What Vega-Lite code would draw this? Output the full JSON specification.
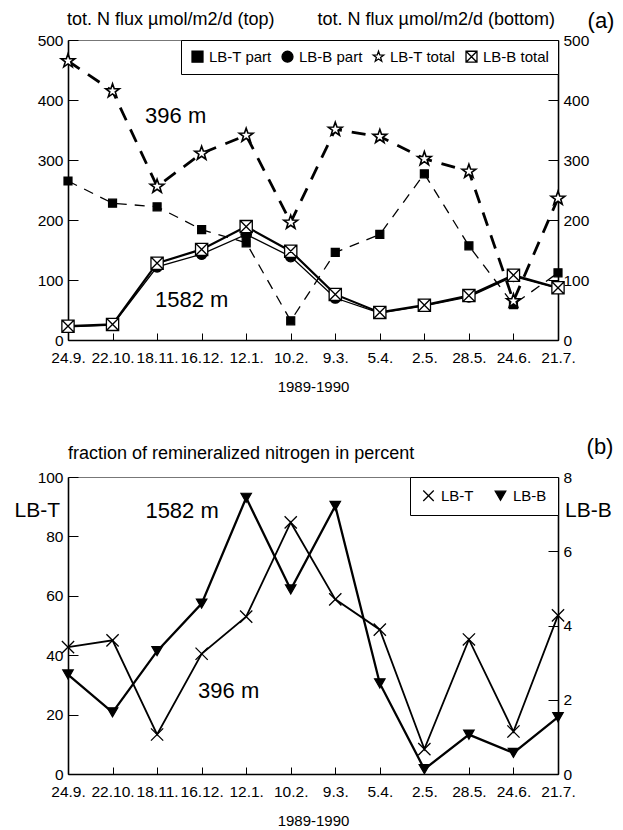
{
  "$schema": "https://vega.github.io/schema/vega-lite/v6.json",
  "background": "white",
  "padding": {"left": 13, "top": 9, "right": 2, "bottom": 2},
  "spacing": 40,
  "config": {
    "font": "Liberation Sans",
    "view": {"stroke": "#777777", "strokeWidth": 1},
    "axis": {"domainColor": "black", "domainWidth": 1.6, "tickColor": "black", "tickWidth": 1, "labelColor": "black", "labelFont": "Liberation Sans", "labelFontSize": 15.5, "grid": false, "titleFont": "Liberation Sans", "titleColor": "black", "titleFontSize": 15, "titleFontWeight": "normal"},
    "text": {"font": "Liberation Sans", "color": "black"}
  },
  "resolve": {"scale": {"shape": "independent", "fill": "independent", "stroke": "independent"}, "legend": {"shape": "independent", "fill": "independent", "stroke": "independent"}},
  "datasets": {
    "fluxes": [
      {"date": "24.9.", "series": "LB-T part", "value": 265},
      {"date": "22.10.", "series": "LB-T part", "value": 228},
      {"date": "18.11.", "series": "LB-T part", "value": 222},
      {"date": "16.12.", "series": "LB-T part", "value": 184},
      {"date": "12.1.", "series": "LB-T part", "value": 162},
      {"date": "10.2.", "series": "LB-T part", "value": 32},
      {"date": "9.3.", "series": "LB-T part", "value": 146},
      {"date": "5.4.", "series": "LB-T part", "value": 176},
      {"date": "2.5.", "series": "LB-T part", "value": 277},
      {"date": "28.5.", "series": "LB-T part", "value": 157},
      {"date": "24.6.", "series": "LB-T part", "value": 59},
      {"date": "21.7.", "series": "LB-T part", "value": 112},
      {"date": "24.9.", "series": "LB-T total", "value": 465},
      {"date": "22.10.", "series": "LB-T total", "value": 415},
      {"date": "18.11.", "series": "LB-T total", "value": 256},
      {"date": "16.12.", "series": "LB-T total", "value": 311},
      {"date": "12.1.", "series": "LB-T total", "value": 341},
      {"date": "10.2.", "series": "LB-T total", "value": 196},
      {"date": "9.3.", "series": "LB-T total", "value": 351},
      {"date": "5.4.", "series": "LB-T total", "value": 339},
      {"date": "2.5.", "series": "LB-T total", "value": 302},
      {"date": "28.5.", "series": "LB-T total", "value": 281},
      {"date": "24.6.", "series": "LB-T total", "value": 65},
      {"date": "21.7.", "series": "LB-T total", "value": 236},
      {"date": "24.9.", "series": "LB-B part", "value": 22},
      {"date": "22.10.", "series": "LB-B part", "value": 25},
      {"date": "18.11.", "series": "LB-B part", "value": 122},
      {"date": "16.12.", "series": "LB-B part", "value": 143},
      {"date": "12.1.", "series": "LB-B part", "value": 176},
      {"date": "10.2.", "series": "LB-B part", "value": 139},
      {"date": "9.3.", "series": "LB-B part", "value": 70},
      {"date": "5.4.", "series": "LB-B part", "value": 45},
      {"date": "2.5.", "series": "LB-B part", "value": 57},
      {"date": "28.5.", "series": "LB-B part", "value": 72},
      {"date": "24.6.", "series": "LB-B part", "value": 106},
      {"date": "21.7.", "series": "LB-B part", "value": 86},
      {"date": "24.9.", "series": "LB-B total", "value": 23},
      {"date": "22.10.", "series": "LB-B total", "value": 26},
      {"date": "18.11.", "series": "LB-B total", "value": 128},
      {"date": "16.12.", "series": "LB-B total", "value": 151},
      {"date": "12.1.", "series": "LB-B total", "value": 189},
      {"date": "10.2.", "series": "LB-B total", "value": 148},
      {"date": "9.3.", "series": "LB-B total", "value": 76},
      {"date": "5.4.", "series": "LB-B total", "value": 46},
      {"date": "2.5.", "series": "LB-B total", "value": 58},
      {"date": "28.5.", "series": "LB-B total", "value": 74},
      {"date": "24.6.", "series": "LB-B total", "value": 108},
      {"date": "21.7.", "series": "LB-B total", "value": 87}
    ],
    "frac": [
      {"date": "24.9.", "series_b": "LB-T", "value": 42.7},
      {"date": "22.10.", "series_b": "LB-T", "value": 45},
      {"date": "18.11.", "series_b": "LB-T", "value": 13.3},
      {"date": "16.12.", "series_b": "LB-T", "value": 40.5},
      {"date": "12.1.", "series_b": "LB-T", "value": 53},
      {"date": "10.2.", "series_b": "LB-T", "value": 84.7},
      {"date": "9.3.", "series_b": "LB-T", "value": 58.8},
      {"date": "5.4.", "series_b": "LB-T", "value": 48.6},
      {"date": "2.5.", "series_b": "LB-T", "value": 8.4},
      {"date": "28.5.", "series_b": "LB-T", "value": 45.3},
      {"date": "24.6.", "series_b": "LB-T", "value": 14.3},
      {"date": "21.7.", "series_b": "LB-T", "value": 53.4},
      {"date": "24.9.", "series_b": "LB-B", "value": 2.68},
      {"date": "22.10.", "series_b": "LB-B", "value": 1.66},
      {"date": "18.11.", "series_b": "LB-B", "value": 3.31},
      {"date": "16.12.", "series_b": "LB-B", "value": 4.59},
      {"date": "12.1.", "series_b": "LB-B", "value": 7.44},
      {"date": "10.2.", "series_b": "LB-B", "value": 4.97},
      {"date": "9.3.", "series_b": "LB-B", "value": 7.22},
      {"date": "5.4.", "series_b": "LB-B", "value": 2.44},
      {"date": "2.5.", "series_b": "LB-B", "value": 0.13},
      {"date": "28.5.", "series_b": "LB-B", "value": 1.06},
      {"date": "24.6.", "series_b": "LB-B", "value": 0.57},
      {"date": "21.7.", "series_b": "LB-B", "value": 1.53}
    ]
  },
  "vconcat": [
    {
      "width": 490,
      "height": 300,
      "data": {"name": "fluxes"},
      "encoding": {
        "x": {"field": "date", "type": "ordinal", "scale": {"type": "point", "padding": 0, "domain": ["24.9.", "22.10.", "18.11.", "16.12.", "12.1.", "10.2.", "9.3.", "5.4.", "2.5.", "28.5.", "24.6.", "21.7."]}, "axis": {"title": "1989-1990", "labelAngle": 0, "tickSize": -7, "labelPadding": 17, "labelOverlap": false, "labelFlush": false, "titlePadding": 14}}
      },
      "resolve": {"scale": {"y": "independent"}},
      "layer": [
        {
          "transform": [{"filter": {"field": "series", "equal": "LB-T part"}}],
          "mark": {"type": "line", "color": "black", "strokeWidth": 1.3, "strokeDash": [10, 8]},
          "encoding": {
            "y": {"field": "value", "type": "quantitative", "scale": {"domain": [0, 500], "nice": false}, "axis": {"title": null, "orient": "left", "values": [0, 100, 200, 300, 400, 500], "tickSize": -10, "labelPadding": 15}}
          }
        },
        {
          "transform": [{"filter": {"field": "series", "equal": "LB-T total"}}],
          "mark": {"type": "line", "color": "black", "strokeWidth": 2.8, "strokeDash": [14, 10]},
          "encoding": {
            "y": {"field": "value", "type": "quantitative", "scale": {"domain": [0, 500], "nice": false}, "axis": null}
          }
        },
        {
          "transform": [{"filter": {"field": "series", "equal": "LB-B part"}}],
          "mark": {"type": "line", "color": "black", "strokeWidth": 1.3},
          "encoding": {
            "y": {"field": "value", "type": "quantitative", "scale": {"domain": [0, 500], "nice": false}, "axis": {"title": null, "orient": "right", "values": [0, 100, 200, 300, 400, 500], "tickSize": -10, "labelPadding": 15}}
          }
        },
        {
          "transform": [{"filter": {"field": "series", "equal": "LB-B total"}}],
          "mark": {"type": "line", "color": "black", "strokeWidth": 2.2},
          "encoding": {
            "y": {"field": "value", "type": "quantitative", "scale": {"domain": [0, 500], "nice": false}, "axis": null}
          }
        },
        {
          "transform": [{"filter": {"field": "series", "equal": "LB-T part"}}],
          "mark": {"type": "point", "strokeWidth": 1.2, "opacity": 1, "size": 64},
          "encoding": {
            "y": {"field": "value", "type": "quantitative", "scale": {"domain": [0, 500], "nice": false}, "axis": null},
            "shape": {"field": "series", "type": "nominal", "scale": {"domain": ["LB-T part", "LB-B part", "LB-T total", "LB-B total"], "range": ["square", "circle", "M0,-1L0.235,-0.324L0.951,-0.309L0.38,0.124L0.588,0.809L0,0.4L-0.588,0.809L-0.38,0.124L-0.951,-0.309L-0.235,-0.324Z", "M-1,-1H1V1H-1ZM-1,-1L1,1M-1,1L1,-1"]}, "legend": {"title": null, "orient": "top-right", "direction": "horizontal", "offset": 0, "padding": 9, "strokeColor": "black", "fillColor": "white", "labelFontSize": 15, "labelColor": "black", "symbolSize": 120, "symbolStrokeWidth": 1.3, "labelOffset": 4, "columnPadding": 7}},
            "fill": {"field": "series", "type": "nominal", "scale": {"domain": ["LB-T part", "LB-B part", "LB-T total", "LB-B total"], "range": ["black", "black", "white", "white"]}, "legend": {"title": null, "orient": "top-right", "direction": "horizontal", "offset": 0, "padding": 9, "strokeColor": "black", "fillColor": "white", "labelFontSize": 15, "labelColor": "black", "symbolSize": 120, "symbolStrokeWidth": 1.3, "labelOffset": 4, "columnPadding": 7}},
            "stroke": {"field": "series", "type": "nominal", "scale": {"domain": ["LB-T part", "LB-B part", "LB-T total", "LB-B total"], "range": ["black", "black", "black", "black"]}, "legend": {"title": null, "orient": "top-right", "direction": "horizontal", "offset": 0, "padding": 9, "strokeColor": "black", "fillColor": "white", "labelFontSize": 15, "labelColor": "black", "symbolSize": 120, "symbolStrokeWidth": 1.3, "labelOffset": 4, "columnPadding": 7}}
          }
        },
        {
          "transform": [{"filter": {"field": "series", "equal": "LB-T total"}}],
          "mark": {"type": "point", "strokeWidth": 1.6, "opacity": 1, "size": 210},
          "encoding": {
            "y": {"field": "value", "type": "quantitative", "scale": {"domain": [0, 500], "nice": false}, "axis": null},
            "shape": {"field": "series", "type": "nominal"},
            "fill": {"field": "series", "type": "nominal"},
            "stroke": {"field": "series", "type": "nominal"}
          }
        },
        {
          "transform": [{"filter": {"field": "series", "equal": "LB-B part"}}],
          "mark": {"type": "point", "strokeWidth": 1.2, "opacity": 1, "size": 110},
          "encoding": {
            "y": {"field": "value", "type": "quantitative", "scale": {"domain": [0, 500], "nice": false}, "axis": null},
            "shape": {"field": "series", "type": "nominal"},
            "fill": {"field": "series", "type": "nominal"},
            "stroke": {"field": "series", "type": "nominal"}
          }
        },
        {
          "transform": [{"filter": {"field": "series", "equal": "LB-B total"}}],
          "mark": {"type": "point", "strokeWidth": 1.3, "opacity": 1, "size": 150},
          "encoding": {
            "y": {"field": "value", "type": "quantitative", "scale": {"domain": [0, 500], "nice": false}, "axis": null},
            "shape": {"field": "series", "type": "nominal"},
            "fill": {"field": "series", "type": "nominal"},
            "stroke": {"field": "series", "type": "nominal"}
          }
        },
        {
          "data": {"values": [{}]},
          "mark": {"type": "text", "text": "396 m", "fontSize": 22, "align": "center", "baseline": "middle", "dx": -26},
          "encoding": {"x": {"datum": "16.12.", "type": "ordinal"}, "y": {"datum": 373, "type": "quantitative", "scale": {"domain": [0, 500], "nice": false}, "axis": null}}
        },
        {
          "data": {"values": [{}]},
          "mark": {"type": "text", "text": "1582 m", "fontSize": 22, "align": "center", "baseline": "middle", "dx": -10},
          "encoding": {"x": {"datum": "16.12.", "type": "ordinal"}, "y": {"datum": 66, "type": "quantitative", "scale": {"domain": [0, 500], "nice": false}, "axis": null}}
        },
        {
          "data": {"values": [{}]},
          "mark": {"type": "text", "text": "tot. N flux µmol/m2/d (top)", "fontSize": 18, "align": "left", "baseline": "middle", "dx": -1, "dy": -20},
          "encoding": {"x": {"datum": "24.9.", "type": "ordinal"}, "y": {"datum": 500, "type": "quantitative", "scale": {"domain": [0, 500], "nice": false}, "axis": null}}
        },
        {
          "data": {"values": [{}]},
          "mark": {"type": "text", "text": "tot. N flux µmol/m2/d (bottom)", "fontSize": 18, "align": "right", "baseline": "middle", "dx": -3, "dy": -20},
          "encoding": {"x": {"datum": "21.7.", "type": "ordinal"}, "y": {"datum": 500, "type": "quantitative", "scale": {"domain": [0, 500], "nice": false}, "axis": null}}
        },
        {
          "data": {"values": [{}]},
          "mark": {"type": "text", "text": "(a)", "fontSize": 22, "align": "center", "baseline": "middle", "dx": 43, "dy": -19},
          "encoding": {"x": {"datum": "21.7.", "type": "ordinal"}, "y": {"datum": 500, "type": "quantitative", "scale": {"domain": [0, 500], "nice": false}, "axis": null}}
        }
      ]
    },
    {
      "width": 490,
      "height": 297,
      "data": {"name": "frac"},
      "encoding": {
        "x": {"field": "date", "type": "ordinal", "scale": {"type": "point", "padding": 0, "domain": ["24.9.", "22.10.", "18.11.", "16.12.", "12.1.", "10.2.", "9.3.", "5.4.", "2.5.", "28.5.", "24.6.", "21.7."]}, "axis": {"title": "1989-1990", "labelAngle": 0, "tickSize": -7, "labelPadding": 17, "labelOverlap": false, "labelFlush": false, "titlePadding": 14}}
      },
      "resolve": {"scale": {"y": "independent"}},
      "layer": [
        {
          "transform": [{"filter": {"field": "series_b", "equal": "LB-T"}}],
          "mark": {"type": "line", "color": "black", "strokeWidth": 1.8},
          "encoding": {
            "y": {"field": "value", "type": "quantitative", "scale": {"domain": [0, 100], "nice": false}, "axis": {"title": null, "orient": "left", "values": [0, 20, 40, 60, 80, 100], "tickSize": -10, "labelPadding": 15}}
          }
        },
        {
          "transform": [{"filter": {"field": "series_b", "equal": "LB-B"}}],
          "mark": {"type": "line", "color": "black", "strokeWidth": 2.3},
          "encoding": {
            "y": {"field": "value", "type": "quantitative", "scale": {"domain": [0, 8], "nice": false}, "axis": {"title": null, "orient": "right", "values": [0, 2, 4, 6, 8], "tickSize": -10, "labelPadding": 15}}
          }
        },
        {
          "transform": [{"filter": {"field": "series_b", "equal": "LB-T"}}],
          "mark": {"type": "point", "strokeWidth": 1.3, "opacity": 1, "size": 150},
          "encoding": {
            "y": {"field": "value", "type": "quantitative", "scale": {"domain": [0, 100], "nice": false}, "axis": null},
            "shape": {"field": "series_b", "type": "nominal", "scale": {"domain": ["LB-T", "LB-B"], "range": ["M-1,-1L1,1M-1,1L1,-1", "triangle-down"]}, "legend": {"title": null, "orient": "top-right", "direction": "horizontal", "offset": 0, "padding": 11, "strokeColor": "black", "fillColor": "white", "labelFontSize": 15, "labelColor": "black", "symbolSize": 110, "symbolStrokeWidth": 1.3, "labelOffset": 5, "columnPadding": 18}},
            "fill": {"field": "series_b", "type": "nominal", "scale": {"domain": ["LB-T", "LB-B"], "range": ["white", "black"]}, "legend": {"title": null, "orient": "top-right", "direction": "horizontal", "offset": 0, "padding": 11, "strokeColor": "black", "fillColor": "white", "labelFontSize": 15, "labelColor": "black", "symbolSize": 110, "symbolStrokeWidth": 1.3, "labelOffset": 5, "columnPadding": 18}},
            "stroke": {"field": "series_b", "type": "nominal", "scale": {"domain": ["LB-T", "LB-B"], "range": ["black", "black"]}, "legend": {"title": null, "orient": "top-right", "direction": "horizontal", "offset": 0, "padding": 11, "strokeColor": "black", "fillColor": "white", "labelFontSize": 15, "labelColor": "black", "symbolSize": 110, "symbolStrokeWidth": 1.3, "labelOffset": 5, "columnPadding": 18}}
          }
        },
        {
          "transform": [{"filter": {"field": "series_b", "equal": "LB-B"}}],
          "mark": {"type": "point", "strokeWidth": 1.2, "opacity": 1, "size": 110},
          "encoding": {
            "y": {"field": "value", "type": "quantitative", "scale": {"domain": [0, 8], "nice": false}, "axis": null},
            "shape": {"field": "series_b", "type": "nominal"},
            "fill": {"field": "series_b", "type": "nominal"},
            "stroke": {"field": "series_b", "type": "nominal"}
          }
        },
        {
          "data": {"values": [{}]},
          "mark": {"type": "text", "text": "1582 m", "fontSize": 22, "align": "center", "baseline": "middle", "dx": 25},
          "encoding": {"x": {"datum": "18.11.", "type": "ordinal"}, "y": {"datum": 88.5, "type": "quantitative", "scale": {"domain": [0, 100], "nice": false}, "axis": null}}
        },
        {
          "data": {"values": [{}]},
          "mark": {"type": "text", "text": "396 m", "fontSize": 22, "align": "center", "baseline": "middle", "dx": 27},
          "encoding": {"x": {"datum": "16.12.", "type": "ordinal"}, "y": {"datum": 28.1, "type": "quantitative", "scale": {"domain": [0, 100], "nice": false}, "axis": null}}
        },
        {
          "data": {"values": [{}]},
          "mark": {"type": "text", "text": "LB-T", "fontSize": 21, "align": "right", "baseline": "middle", "dx": -8},
          "encoding": {"x": {"datum": "24.9.", "type": "ordinal"}, "y": {"datum": 88.5, "type": "quantitative", "scale": {"domain": [0, 100], "nice": false}, "axis": null}}
        },
        {
          "data": {"values": [{}]},
          "mark": {"type": "text", "text": "LB-B", "fontSize": 21, "align": "left", "baseline": "middle", "dx": 7},
          "encoding": {"x": {"datum": "21.7.", "type": "ordinal"}, "y": {"datum": 88.5, "type": "quantitative", "scale": {"domain": [0, 100], "nice": false}, "axis": null}}
        },
        {
          "data": {"values": [{}]},
          "mark": {"type": "text", "text": "fraction of remineralized nitrogen in percent", "fontSize": 18, "align": "left", "baseline": "middle", "dy": -23},
          "encoding": {"x": {"datum": "24.9.", "type": "ordinal"}, "y": {"datum": 100, "type": "quantitative", "scale": {"domain": [0, 100], "nice": false}, "axis": null}}
        },
        {
          "data": {"values": [{}]},
          "mark": {"type": "text", "text": "(b)", "fontSize": 22, "align": "center", "baseline": "middle", "dx": 42, "dy": -30},
          "encoding": {"x": {"datum": "21.7.", "type": "ordinal"}, "y": {"datum": 100, "type": "quantitative", "scale": {"domain": [0, 100], "nice": false}, "axis": null}}
        }
      ]
    }
  ]
}
